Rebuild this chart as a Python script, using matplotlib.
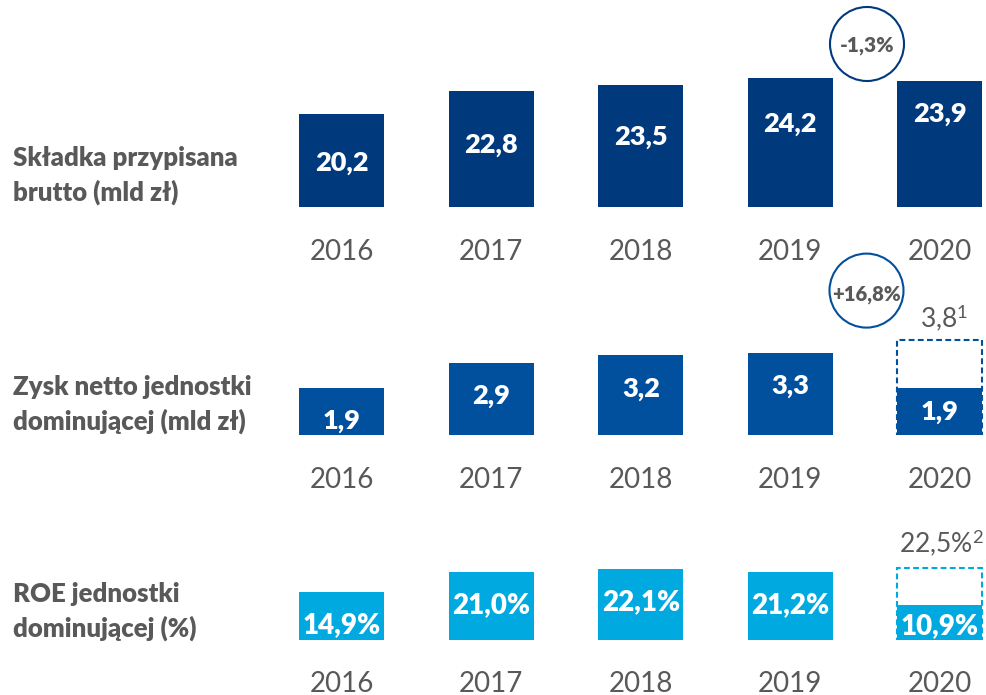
import matplotlib
matplotlib.use('Agg')
import matplotlib.pyplot as plt
from matplotlib.patches import Ellipse

# ---------------- data ----------------
years = ['2016', '2017', '2018', '2019', '2020']
premium = [20.2, 22.8, 23.5, 24.2, 23.9]
premium_labels = ['20,2', '22,8', '23,5', '24,2', '23,9']
profit = [1.9, 2.9, 3.2, 3.3, 1.9]
profit_labels = ['1,9', '2,9', '3,2', '3,3', '1,9']
profit_adj = 3.8
profit_adj_label = '3,8'
profit_adj_note = '1'
roe = [14.9, 21.0, 22.1, 21.2, 10.9]
roe_labels = ['14,9%', '21,0%', '22,1%', '21,2%', '10,9%']
roe_adj = 22.5
roe_adj_label = '22,5%'
roe_adj_note = '2'
row_titles = ['Składka przypisana\nbrutto (mld zł)',
              'Zysk netto jednostki\ndominującej (mld zł)',
              'ROE jednostki\ndominującej (%)']
changes = ['-1,3%', '+16,8%']

# ---------------- style ----------------
W, H = 986, 695
GREY = '#595959'
C1, C2, C3 = '#003A7D', '#00509E', '#00A9E0'
plt.rcParams['font.family'] = ['Lato', 'DejaVu Sans']
plt.rcParams['mathtext.fontset'] = 'custom'
plt.rcParams['mathtext.rm'] = 'Lato'
plt.rcParams['mathtext.it'] = 'Lato:italic'
plt.rcParams['mathtext.bf'] = 'Lato:bold'
PT = 0.72  # points per pixel at dpi 100
BOLD = 'heavy'

fig = plt.figure(figsize=(W / 100, H / 100), dpi=100)
fig.patch.set_facecolor('white')

X0, DX = 341.8, 149.5
XL, XR = -0.5, 4.32
BW = 85 / DX


def px_axes(top, bottom):
    left = X0 + XL * DX
    return [left / W, 1 - bottom / H, (XR - XL) * DX / W, (bottom - top) / H]


def setup(ax, pad_px):
    ax.set_xlim(XL, XR)
    for s in ax.spines.values():
        s.set_visible(False)
    ax.set_yticks([])
    ax.set_xticks(range(len(years)))
    ax.set_xticklabels(years, fontsize=20, color=GREY)
    ax.tick_params(axis='x', length=0, pad=pad_px * PT)
    for lbl in ax.get_xticklabels():
        lbl.set_verticalalignment('baseline')
    ax.patch.set_alpha(0)


def value_labels(ax, vals, labels, offsets, size):
    for i, (v, t, o) in enumerate(zip(vals, labels, offsets)):
        ax.annotate(t, xy=(i, v), xytext=(0, -o * PT), textcoords='offset points',
                    ha='center', va='baseline', color='white', fontsize=size,
                    fontweight=BOLD, zorder=5)


x = list(range(len(years)))

# Row 1
ax1 = fig.add_axes(px_axes(0, 206.7))
ax1.set_ylim(9.93, 9.93 + 206.7 / 9.0)
ax1.bar(x, premium, width=BW, color=C1, zorder=2)
setup(ax1, 53.3)
value_labels(ax1, premium, premium_labels, [56.4, 62.3, 60.3, 53.4, 40.6], 19.5)

# Row 2
ax2 = fig.add_axes(px_axes(300, 435))
ax2.set_ylim(0, 135 / 25)
ax2.bar([x[-1]], [profit_adj], width=BW, facecolor='white', edgecolor=C2,
        linewidth=1.5, linestyle=(0, (2.8, 1.6)), zorder=1)
ax2.bar(x, profit, width=BW, color=C2, zorder=2)
setup(ax2, 52.7)
value_labels(ax2, profit, profit_labels, [41, 41.3, 41.3, 41, 32], 19.5)
ax2.annotate(profit_adj_label + '$^{' + profit_adj_note + '}$', xy=(x[-1], profit_adj),
             xytext=(3, 12.7 * PT), textcoords='offset points', ha='center',
             va='baseline', color=GREY, fontsize=19)

# Row 3
ax3 = fig.add_axes(px_axes(540, 639.5))
ax3.set_ylim(0, 99.5 / 3.2)
ax3.bar([x[-1]], [roe_adj], width=BW, facecolor='white', edgecolor=C3,
        linewidth=1.5, linestyle=(0, (2.8, 1.6)), zorder=1)
ax3.bar(x, roe, width=BW, color=C3, zorder=2)
setup(ax3, 52.2)
value_labels(ax3, roe, roe_labels, [41, 41, 41.3, 41.7, 29.4], 20)
ax3.annotate(roe_adj_label + '$^{' + roe_adj_note + '}$',
             xy=(x[-1], roe_adj), xytext=(1, 15.3 * PT), textcoords='offset points',
             ha='center', va='baseline', color=GREY, fontsize=19)

# Row titles (baseline of the second line)
for t, base in zip(row_titles, [201, 430, 637]):
    fig.text(12.7 / W, 1 - base / H, t, ha='left', va='baseline', fontsize=18.5,
             fontweight=BOLD, color=GREY, linespacing=1.45)

# Change circles
for t, (cx, cy, by), col in zip(changes, [(867, 44, 51.7), (866.5, 290.6, 300.7)], [C1, C2]):
    fig.add_artist(Ellipse((cx / W, 1 - cy / H), 74 / W, 74 / H,
                           transform=fig.transFigure, fill=False,
                           edgecolor=col, linewidth=1.5))
    fig.text(cx / W, 1 - by / H, t, ha='center', va='baseline',
             fontsize=15 if len(t) < 6 else 14.5,
             fontweight=BOLD, color=GREY)

fig.savefig('out.png', dpi=100, facecolor='white')
